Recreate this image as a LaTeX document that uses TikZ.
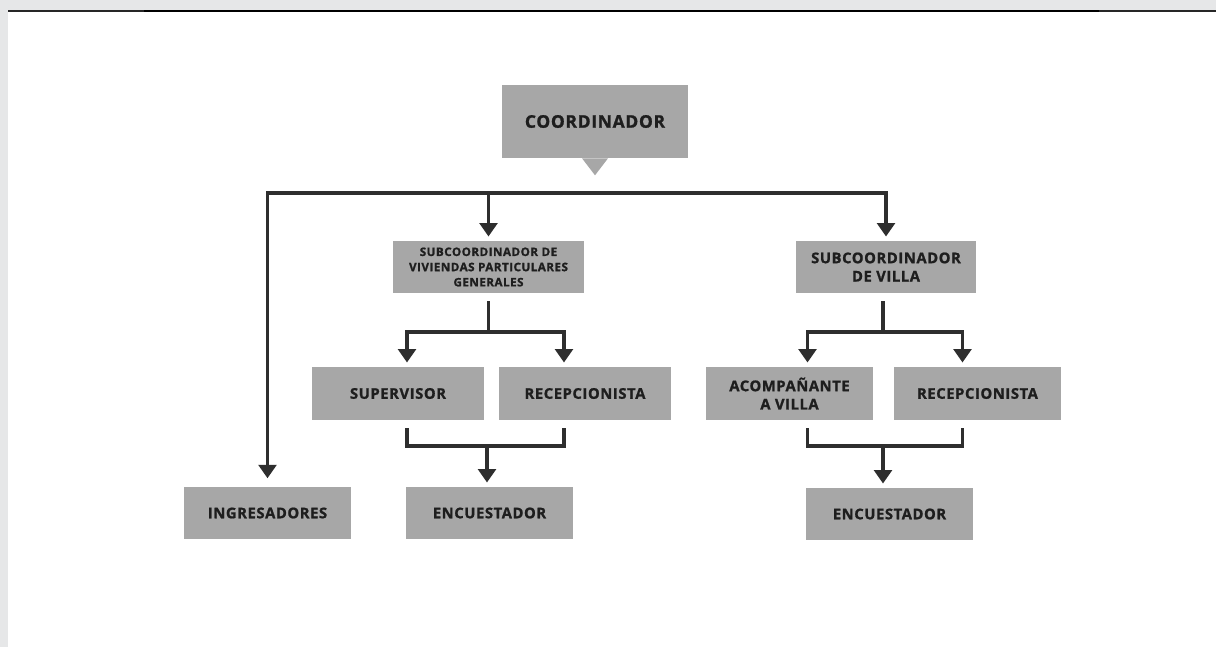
\documentclass[tikz,border=0pt]{standalone}
\usepackage{fontspec}
\newfontfamily\orgfont[LetterSpace=4, BoldFeatures={FakeBold=1.2}]{Open Sans}
\usetikzlibrary{arrows.meta}
\definecolor{boxgray}{HTML}{A7A7A7}
\definecolor{linegray}{HTML}{2E2E2E}
\definecolor{framegray}{HTML}{E6E7E8}
\definecolor{textgray}{HTML}{1E1E1E}
\tikzset{
	box/.style = {fill=boxgray, align=center, inner sep=0pt, text=textgray,
		font=\orgfont\bfseries\fontsize{10.5}{13}\selectfont,
		minimum width=4.175cm, minimum height=1.3cm},
	bigbox/.style = {box, font=\orgfont\bfseries\fontsize{12.4}{14}\selectfont,
		minimum width=4.65cm, minimum height=1.825cm},
	smallbox/.style = {box, font=\orgfont\bfseries\fontsize{8.3}{10.8}\selectfont},
	conn/.style = {draw=linegray, line width=2.6pt},
	arr/.style = {conn, -{Triangle[width=12.5pt,length=9.5pt]}, shorten >=3pt}
}
\begin{document}
\begin{tikzpicture}[x=0.025cm, y=-0.025cm]
	\useasboundingbox (0,0) rectangle (1216,647);
	% page frame
	\fill[framegray] (0,0) rectangle (1216,647);
	\fill[white] (8,11) rectangle (1216,647);
	\draw[line width=1.5pt, black!85] (8,11) -- (144,11);
	\draw[line width=0.8pt, black] (144,11) -- (1099,11);
	\draw[line width=1.5pt, black!85] (1099,11) -- (1216,11);

	% boxes
	\node [bigbox] (coord) at (595,121.5) {COORDINADOR};
	\fill[boxgray] (coord.south) ++(-13,0) -- ++(13,17) -- ++(13,-17) -- cycle;

	\node [smallbox, minimum width=4.75cm] (vpg) at (488.5,267)
		{SUBCOORDINADOR DE\\VIVIENDAS PARTICULARES\\GENERALES};
	\node [box, minimum width=4.475cm] (villa) at (886,267) {SUBCOORDINADOR\\DE VILLA};

	\node [box, minimum width=4.3cm, minimum height=1.325cm] (sup) at (398,393.5) {SUPERVISOR};
	\node [box, minimum width=4.3cm, minimum height=1.325cm] (rec1) at (585,393.5) {RECEPCIONISTA};
	\node [box, minimum height=1.325cm] (acomp) at (789.5,393.5) {ACOMPAÑANTE\\A VILLA};
	\node [box, minimum height=1.325cm] (rec2) at (977.5,393.5) {RECEPCIONISTA};

	\node [box] (ingr) at (267.5,513) {INGRESADORES};
	\node [box] (enc1) at (489.5,513) {ENCUESTADOR};
	\node [box] (enc2) at (889.5,514) {ENCUESTADOR};

	% connectors
	\coordinate (hub) at (595,193);
	\draw[arr, shorten >=6pt] (hub) -| (ingr);
	\draw[arr] (hub) -| (villa);
	\draw[arr] (hub -| vpg) -- (vpg);

	\coordinate (vpgsplit) at ([yshift=-0.975cm]vpg.south);
	\draw[conn] ([yshift=-0.2cm]vpg.south) -- (vpgsplit);
	\draw[arr] (vpgsplit) -| ([xshift=0.225cm]sup.north);
	\draw[arr] (vpgsplit) -| ([xshift=-0.525cm]rec1.north);

	\coordinate (villasplit) at ([yshift=-0.975cm,xshift=-0.075cm]villa.south);
	\draw[conn] ([yshift=-0.2cm,xshift=-0.075cm]villa.south) -- (villasplit);
	\draw[arr] (villasplit) -| ([xshift=0.45cm]acomp.north);
	\draw[arr] (villasplit) -| ([xshift=-0.375cm]rec2.north);

	\coordinate (vpgjoin) at (487,446);
	\draw[conn] ([xshift=0.225cm,yshift=-0.2cm]sup.south) |- (vpgjoin)
		-| ([xshift=-0.525cm,yshift=-0.2cm]rec1.south);
	\draw[arr] (vpgjoin) -- (vpgjoin |- enc1.north);

	\coordinate (villajoin) at (883,446);
	\draw[conn] ([xshift=0.45cm,yshift=-0.2cm]acomp.south) |- (villajoin)
		-| ([xshift=-0.375cm,yshift=-0.2cm]rec2.south);
	\draw[arr] (villajoin) -- (villajoin |- enc2.north);
\end{tikzpicture}
\end{document}
